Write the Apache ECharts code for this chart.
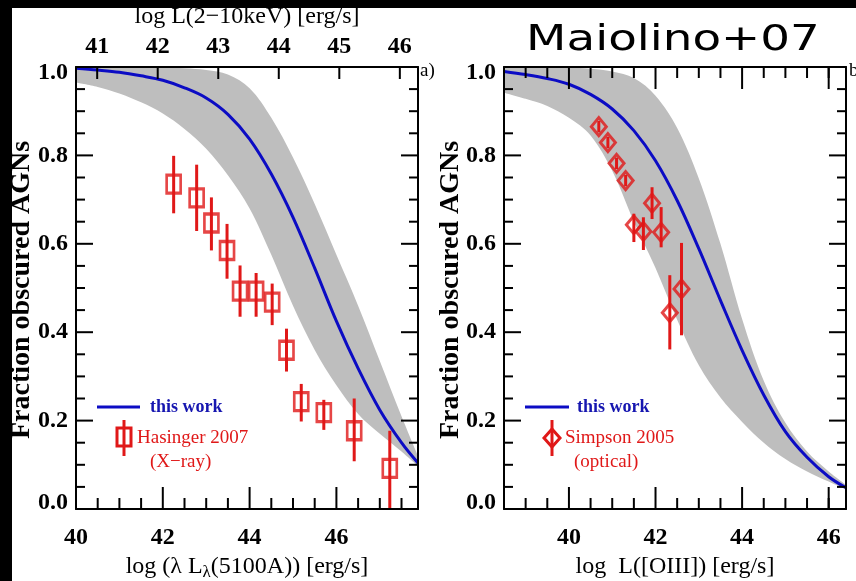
<!DOCTYPE html>
<html>
<head>
<meta charset="utf-8">
<script src="https://cdn.jsdelivr.net/npm/echarts@6/dist/echarts.min.js"></script>
<style>html,body{margin:0;padding:0;background:#fff}.c{position:absolute;left:0;top:0;width:856px;height:581px}</style>
</head>
<body>
<div id="c" class="c"></div>
<div id="g" class="c"></div>
<script>
// ---------------- data ----------------
// Left panel: log(lambda L_lambda(5100A))
const leftX = [40, 40.5, 41, 41.5, 42, 42.5, 43, 43.5, 44, 44.5, 45, 45.5, 46, 46.5, 47, 47.5, 47.88];
const leftModel = [0.997, 0.993, 0.988, 0.980, 0.970, 0.953, 0.930, 0.893, 0.837, 0.758, 0.660, 0.545, 0.425, 0.318, 0.224, 0.150, 0.104];
const leftBandLo = [0.965, 0.955, 0.940, 0.920, 0.895, 0.860, 0.815, 0.755, 0.680, 0.575, 0.460, 0.360, 0.280, 0.215, 0.170, 0.130, 0.097];
const leftBandHi = [1.000, 1.000, 1.000, 1.000, 0.999, 0.997, 0.993, 0.983, 0.952, 0.885, 0.795, 0.690, 0.575, 0.460, 0.335, 0.210, 0.120];
const hasingerX = [42.25, 42.78, 43.12, 43.48, 43.78, 44.15, 44.52, 44.85, 45.19, 45.71, 46.41, 47.23];
const hasingerY = [0.735, 0.704, 0.647, 0.585, 0.493, 0.493, 0.468, 0.359, 0.243, 0.218, 0.177, 0.092];
const hasingerLo = [0.669, 0.629, 0.585, 0.521, 0.435, 0.435, 0.416, 0.311, 0.198, 0.179, 0.108, 0.000];
const hasingerHi = [0.799, 0.779, 0.705, 0.645, 0.551, 0.534, 0.510, 0.408, 0.283, 0.247, 0.250, 0.177];

// Right panel: log L([OIII])
const rightX = [38.5, 39, 39.5, 40, 40.5, 41, 41.5, 42, 42.5, 43, 43.5, 44, 44.5, 45, 45.5, 46, 46.4];
const rightModel = [0.990, 0.983, 0.974, 0.961, 0.938, 0.905, 0.856, 0.788, 0.698, 0.589, 0.472, 0.359, 0.258, 0.175, 0.117, 0.073, 0.048];
const rightBandLo = [0.942, 0.928, 0.912, 0.885, 0.845, 0.765, 0.650, 0.545, 0.428, 0.325, 0.252, 0.197, 0.150, 0.113, 0.085, 0.062, 0.044];
const rightBandHi = [1.000, 1.000, 1.000, 0.999, 0.996, 0.990, 0.975, 0.935, 0.862, 0.748, 0.600, 0.430, 0.290, 0.195, 0.130, 0.085, 0.055];
const simpsonX = [40.69, 40.90, 41.10, 41.31, 41.50, 41.72, 41.92, 42.13, 42.33, 42.60];
const simpsonY = [0.865, 0.829, 0.782, 0.743, 0.643, 0.628, 0.692, 0.626, 0.444, 0.498];
const simpsonLo = [0.852, 0.816, 0.769, 0.730, 0.604, 0.586, 0.656, 0.592, 0.361, 0.393];
const simpsonHi = [0.878, 0.842, 0.795, 0.756, 0.668, 0.660, 0.728, 0.683, 0.529, 0.602];

// Tick labels / positions
const leftBottomTicks = [40, 42, 44, 46];
const leftBottomMinor = [40.5, 41, 41.5, 42.5, 43, 43.5, 44.5, 45, 45.5, 46.5, 47, 47.5];
const leftTopTicks = [41, 42, 43, 44, 45, 46];
const rightBottomTicks = [40, 42, 44, 46];
const rightBottomMinor = [39, 39.5, 40.5, 41, 41.5, 42.5, 43, 43.5, 44.5, 45, 45.5, 46];
const yMajorTicks = [0.2, 0.4, 0.6, 0.8];
const yMinorTicks = [0.05, 0.1, 0.15, 0.25, 0.3, 0.35, 0.45, 0.5, 0.55, 0.65, 0.7, 0.75, 0.85, 0.9, 0.95];
const yMin = 0, yMax = 1, yStep = 0.2;
const leftRange = [40, 47.88], leftTopRange = [40.65, 46.3], rightRange = [38.5, 46.4];

// ---------------- styles ----------------
const RED = '#e01818', BLUE = '#0c0cc4', GREY = '#bebebe';
const NUMFONT = {color: '#000', fontFamily: 'Liberation Serif', fontWeight: 'bold', fontSize: 24};
const ax = () => ({color: '#000', width: 2});

function xAx(grid, pos, range, labels) {
  return {
    type: 'value', gridIndex: grid, position: pos, min: range[0], max: range[1], z: 5,
    splitLine: {show: false},
    axisLine: {show: true, onZero: false, lineStyle: ax()},
    axisTick: {show: false},
    axisLabel: labels ? Object.assign({show: true, customValues: labels, margin: pos === 'top' ? 8 : 17}, NUMFONT) : {show: false}
  };
}
function yAx(grid, pos, labels) {
  return {
    type: 'value', gridIndex: grid, position: pos, min: yMin, max: yMax, interval: yStep, z: 5,
    splitLine: {show: false},
    axisLine: {show: true, onZero: false, lineStyle: ax()},
    axisTick: {show: false},
    axisLabel: labels ? Object.assign({
      show: true, margin: 8,
      formatter: v => (Math.abs(v - yMax) < 1e-9 ? '{t|' + v.toFixed(1) + '}' : Math.abs(v - yMin) < 1e-9 ? '{b|' + v.toFixed(1) + '}' : v.toFixed(1)),
      rich: {t: Object.assign({padding: [12, 0, 0, 0]}, NUMFONT), b: Object.assign({padding: [0, 0, 12, 0]}, NUMFONT)}
    }, NUMFONT) : {show: false}
  };
}

const pairs = (xs, ys) => xs.map((x, i) => [x, ys[i]]);
const triples = (xs, lo, hi) => xs.map((x, i) => [x, lo[i], hi[i]]);
const onX = (vals, y) => vals.map(v => [v, y]);
const onY = (vals, x) => vals.map(v => [x, v]);

// tick marks positioned through the axes' scales (side and length are style only)
function tickSeries(xi, yi, points, side, len) {
  return {
    type: 'custom', xAxisIndex: xi, yAxisIndex: yi, data: points, z: 7, silent: true,
    encode: {x: 0, y: 1},
    renderItem: function (params, api) {
      const p = api.coord([api.value(0), api.value(1)]);
      const q = side === 'left' ? [p[0] + len, p[1]] : side === 'right' ? [p[0] - len, p[1]] : side === 'bottom' ? [p[0], p[1] - len] : [p[0], p[1] + len];
      return {type: 'line', shape: {x1: p[0], y1: p[1], x2: q[0], y2: q[1]}, style: {stroke: '#000', lineWidth: 2}};
    }
  };
}
function frameTicks(xi, yi, xr, xMajors, xMinors, withTop) {
  const s = [
    tickSeries(xi, yi, onY(yMajorTicks, xr[0]), 'left', 17),
    tickSeries(xi, yi, onY(yMinorTicks, xr[0]), 'left', 9),
    tickSeries(xi, yi, onY(yMajorTicks, xr[1]), 'right', 17),
    tickSeries(xi, yi, onY(yMinorTicks, xr[1]), 'right', 9),
    tickSeries(xi, yi, onX(xMajors, yMin), 'bottom', 22),
    tickSeries(xi, yi, onX(xMinors, yMin), 'bottom', 11)
  ];
  if (withTop) {
    s.push(tickSeries(xi, yi, onX(xMajors, yMax), 'top', 22));
    s.push(tickSeries(xi, yi, onX(xMinors, yMax), 'top', 11));
  }
  return s;
}

function bandSeries(xi, yi, xs, vals, color, z) {
  return {
    type: 'line', xAxisIndex: xi, yAxisIndex: yi, data: pairs(xs, vals), smooth: 0.35, symbol: 'none', z: z,
    lineStyle: {width: 0, opacity: 0}, areaStyle: {color: color, opacity: 1, origin: 'start'}
  };
}
function modelSeries(xi, yi, xs, vals) {
  return {
    type: 'line', name: 'this work', xAxisIndex: xi, yAxisIndex: yi, data: pairs(xs, vals), smooth: 0.35, symbol: 'none', z: 3,
    lineStyle: {color: BLUE, width: 3}
  };
}
function errSeries(xi, yi, xs, lo, hi) {
  return {
    type: 'custom', xAxisIndex: xi, yAxisIndex: yi, data: triples(xs, lo, hi), z: 4,
    encode: {x: 0, y: [1, 2]},
    renderItem: function (params, api) {
      const a = api.coord([api.value(0), api.value(1)]);
      const b = api.coord([api.value(0), api.value(2)]);
      return {type: 'line', shape: {x1: a[0], y1: a[1], x2: b[0], y2: b[1]}, style: {stroke: RED, lineWidth: 3}};
    }
  };
}
function pointSeries(name, xi, yi, xs, ys, symbol, size) {
  return {
    type: 'scatter', name: name, xAxisIndex: xi, yAxisIndex: yi, data: pairs(xs, ys), z: 6,
    symbol: symbol, symbolSize: size,
    itemStyle: {color: 'rgba(255,255,255,0)', borderColor: RED, borderWidth: 3}
  };
}

const option = {
  animation: false,
  grid: [
    {left: 76, top: 67, width: 342, height: 442, outerBoundsMode: 'none'},
    {left: 504, top: 67, width: 342, height: 442, outerBoundsMode: 'none'}
  ],
  xAxis: [
    xAx(0, 'bottom', leftRange, leftBottomTicks),
    xAx(0, 'top', leftTopRange, leftTopTicks),
    xAx(1, 'bottom', rightRange, rightBottomTicks),
    xAx(1, 'top', rightRange, null)
  ],
  yAxis: [
    yAx(0, 'left', true),
    yAx(0, 'right', false),
    yAx(1, 'left', true),
    yAx(1, 'right', false)
  ],
  series: [
    bandSeries(0, 0, leftX, leftBandHi, GREY, 1),
    bandSeries(0, 0, leftX, leftBandLo, '#ffffff', 2),
    modelSeries(0, 0, leftX, leftModel),
    errSeries(0, 0, hasingerX, hasingerLo, hasingerHi),
    pointSeries('Hasinger 2007', 0, 0, hasingerX, hasingerY, 'rect', [14, 18]),
    bandSeries(2, 2, rightX, rightBandHi, GREY, 1),
    bandSeries(2, 2, rightX, rightBandLo, '#ffffff', 2),
    modelSeries(2, 2, rightX, rightModel),
    errSeries(2, 2, simpsonX, simpsonLo, simpsonHi),
    pointSeries('Simpson 2005', 2, 2, simpsonX, simpsonY, 'diamond', [15, 18]),
    tickSeries(1, 0, onX(leftTopTicks, yMax), 'top', 12)
  ].concat(frameTicks(0, 0, leftRange, leftBottomTicks, leftBottomMinor, false))
   .concat(frameTicks(2, 2, rightRange, rightBottomTicks, rightBottomMinor, true))
};

const TITLE = '24px "Liberation Serif"';
const YTITLE = 'bold 28px "Liberation Serif"';
const overlay = {
  animation: false,
  graphic: [
    {type: 'rect', shape: {x: 0, y: 0, width: 856, height: 8}, style: {fill: '#000'}},
    {type: 'rect', shape: {x: 0, y: 0, width: 12, height: 581}, style: {fill: '#000'}},
    {type: 'text', x: 673, y: 41, scaleX: 1.3, style: {text: 'Maiolino+07', fill: '#000', font: '36px "DejaVu Sans"', textAlign: 'center', textVerticalAlign: 'middle'}},
    {type: 'text', x: 247, y: 17, style: {text: 'log L(2\u221210keV) [erg/s]', fill: '#000', font: TITLE, textAlign: 'center', textVerticalAlign: 'middle'}},
    {type: 'text', x: 247, y: 567, style: {text: 'log (λ L{sub|λ}(5100A)) [erg/s]', fill: '#000', font: TITLE, textAlign: 'center', textVerticalAlign: 'middle',
      rich: {sub: {fontFamily: 'Liberation Serif', fontSize: 17, padding: [12, 0, 0, 0], fill: '#000'}}}},
    {type: 'text', x: 675, y: 567, style: {text: 'log  L([OIII]) [erg/s]', fill: '#000', font: TITLE, textAlign: 'center', textVerticalAlign: 'middle'}},
    {type: 'text', x: 22, y: 290, rotation: Math.PI / 2, style: {text: 'Fraction obscured AGNs', fill: '#000', font: YTITLE, textAlign: 'center', textVerticalAlign: 'middle'}},
    {type: 'text', x: 451, y: 290, rotation: Math.PI / 2, style: {text: 'Fraction obscured AGNs', fill: '#000', font: YTITLE, textAlign: 'center', textVerticalAlign: 'middle'}},
    {type: 'text', x: 420, y: 71, style: {text: 'a)', fill: '#000', font: '19px "Liberation Serif"', textAlign: 'left', textVerticalAlign: 'middle'}},
    {type: 'text', x: 849, y: 71, style: {text: 'b)', fill: '#000', font: '19px "Liberation Serif"', textAlign: 'left', textVerticalAlign: 'middle'}},
    {type: 'line', shape: {x1: 97, y1: 407, x2: 140, y2: 407}, style: {stroke: BLUE, lineWidth: 3}},
    {type: 'text', x: 150, y: 407, style: {text: 'this work', fill: '#1616b0', font: 'bold 18px "Liberation Serif"', textAlign: 'left', textVerticalAlign: 'middle'}},
    {type: 'line', shape: {x1: 124, y1: 420, x2: 124, y2: 456}, style: {stroke: RED, lineWidth: 3}},
    {type: 'rect', shape: {x: 117, y: 428, width: 14, height: 18}, style: {fill: 'none', stroke: RED, lineWidth: 3}},
    {type: 'text', x: 137, y: 438, style: {text: 'Hasinger 2007', fill: RED, font: '19px "Liberation Serif"', textAlign: 'left', textVerticalAlign: 'middle'}},
    {type: 'text', x: 150, y: 462, style: {text: '(X\u2212ray)', fill: RED, font: '19px "Liberation Serif"', textAlign: 'left', textVerticalAlign: 'middle'}},
    {type: 'line', shape: {x1: 525, y1: 407, x2: 569, y2: 407}, style: {stroke: BLUE, lineWidth: 3}},
    {type: 'text', x: 577, y: 407, style: {text: 'this work', fill: '#1616b0', font: 'bold 18px "Liberation Serif"', textAlign: 'left', textVerticalAlign: 'middle'}},
    {type: 'line', shape: {x1: 552, y1: 420, x2: 552, y2: 456}, style: {stroke: RED, lineWidth: 3}},
    {type: 'polygon', shape: {points: [[552, 429], [560, 438], [552, 447], [544, 438]]}, style: {fill: 'none', stroke: RED, lineWidth: 3}},
    {type: 'text', x: 565, y: 438, style: {text: 'Simpson 2005', fill: RED, font: '19px "Liberation Serif"', textAlign: 'left', textVerticalAlign: 'middle'}},
    {type: 'text', x: 574, y: 462, style: {text: '(optical)', fill: RED, font: '19px "Liberation Serif"', textAlign: 'left', textVerticalAlign: 'middle'}}
  ]
};

echarts.init(document.getElementById('c')).setOption(option);
echarts.init(document.getElementById('g')).setOption(overlay);
</script>
</body>
</html>
